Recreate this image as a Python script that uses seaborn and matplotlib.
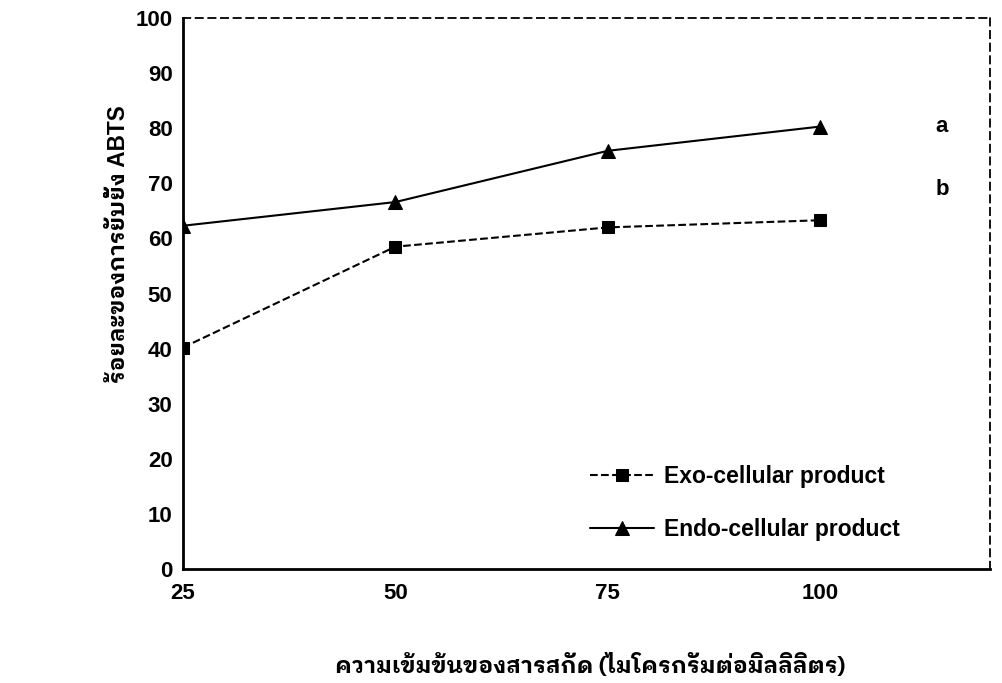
import matplotlib
matplotlib.use("Agg")
import matplotlib.pyplot as plt
import pandas as pd
import seaborn as sns

concentration = [25, 50, 75, 100]
exo_values = [40.2, 58.5, 62.0, 63.3]
endo_values = [62.3, 66.6, 75.9, 80.3]
exo_label = "Exo-cellular product"
endo_label = "Endo-cellular product"
yticks = [0, 10, 20, 30, 40, 50, 60, 70, 80, 90, 100]
group_letters = ["a", "b"]

sns.set_style("white")
latin = ["Liberation Sans", "IBM Plex Sans Thai Looped"]
thai = ["IBM Plex Sans Thai Looped", "Liberation Sans"]
plt.rcParams["font.family"] = latin
for key in ["text.color", "axes.labelcolor", "xtick.color", "ytick.color"]:
    plt.rcParams[key] = "black"

df = pd.DataFrame({"conc": concentration, "exo": exo_values, "endo": endo_values})

fig = plt.figure(figsize=(10.02, 6.83), dpi=100)
ax = fig.add_axes([0.1826, 0.1669, 0.8054, 0.8067])

sns.lineplot(data=df, x="conc", y="exo", ax=ax, color="black", linestyle="--",
             linewidth=1.5, marker="s", markersize=9, markeredgecolor="black",
             label=exo_label)
sns.lineplot(data=df, x="conc", y="endo", ax=ax, color="black", linestyle="-",
             linewidth=1.5, marker="^", markersize=10.5, markeredgecolor="black",
             label=endo_label)

ax.set_xlim(25, 120)
ax.set_ylim(0, 100)
ax.set_xticks(concentration)
ax.set_yticks(yticks)
ax.tick_params(axis="y", direction="out", length=6, width=1.3, labelsize=16, pad=1.5)
ax.tick_params(axis="x", direction="inout", length=10, width=1.3, labelsize=16, pad=5)
for lab in ax.get_xticklabels() + ax.get_yticklabels():
    lab.set_fontweight("bold")

for side in ["left", "bottom"]:
    ax.spines[side].set_linewidth(2)
    ax.spines[side].set_color("black")
for side in ["top", "right"]:
    ax.spines[side].set_linewidth(1.3)
    ax.spines[side].set_linestyle((0, (4, 3)))
    ax.spines[side].set_color("black")

ax.set_xlabel("ความเข้มข้นของสารสกัด (ไมโครกรัมต่อมิลลิลิตร)", family=thai,
              fontsize=16.5, fontweight="bold")
ax.xaxis.set_label_coords(0.505, -0.152)
ax.set_ylabel("ร้อยละของการยับยั้ง ABTS", family=latin, fontsize=16.3,
              fontweight="bold")
ax.yaxis.set_label_coords(-0.066, 0.59)

# group letters beside the last points
ax.text(113.6, 80.3, group_letters[0], fontsize=16, fontweight="bold", va="center")
ax.text(113.6, 68.8, group_letters[1], fontsize=16, fontweight="bold", va="center")

ax.legend(loc="center left", bbox_to_anchor=(0.504, 0.12), frameon=False,
          prop={"weight": "bold", "size": 16.5}, handlelength=2.8,
          labelspacing=1.3, handletextpad=0.45, borderpad=0, borderaxespad=0)

fig.savefig("out.png", dpi=100)
